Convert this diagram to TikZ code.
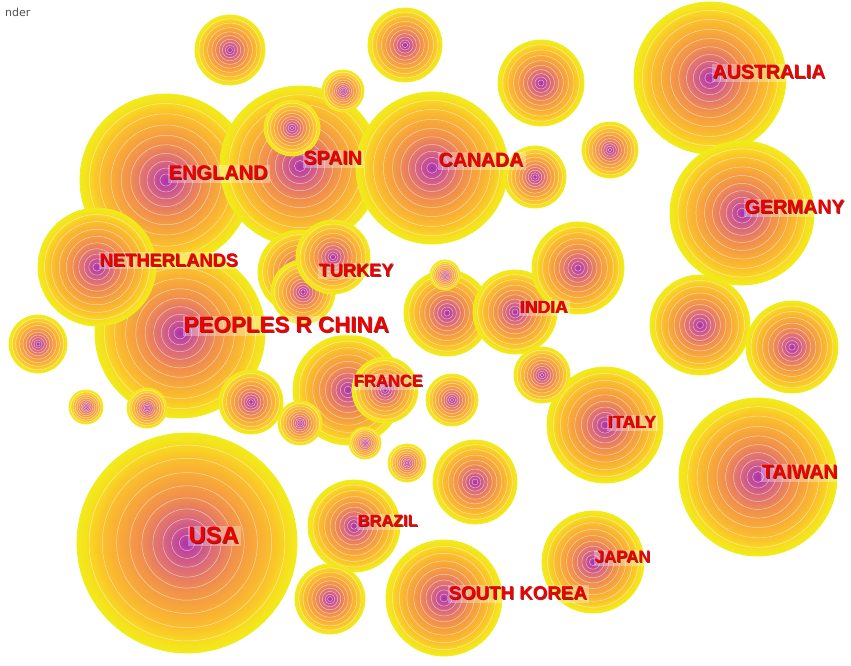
\documentclass[tikz,border=0pt]{standalone}
\usepackage{fontspec}
\newfontfamily\lblfont{Liberation Sans}
\newfontfamily\uifont{DejaVu Sans}
\pgfdeclarelayer{edgelayer}
\pgfsetlayers{edgelayer,main}
\definecolor{cPur}{RGB}{168,50,178}
\definecolor{cPur2}{RGB}{186,66,160}
\definecolor{cPink}{RGB}{218,104,124}
\definecolor{cOrg}{RGB}{240,142,78}
\definecolor{cLOrg}{RGB}{248,170,56}
\definecolor{cYOrg}{RGB}{250,196,42}
\definecolor{cYel}{RGB}{246,224,30}
\definecolor{cRim}{RGB}{240,236,26}
\definecolor{cLbl}{RGB}{240,0,0}
\definecolor{cShadow}{RGB}{110,0,0}
\definecolor{cEdge}{RGB}{238,228,238}
\definecolor{cUi}{RGB}{80,80,80}
\pgfdeclareradialshading{ctryshade}{\pgfpoint{0bp}{0bp}}{color(0bp)=(cPur); color(1.5bp)=(cPur2); color(5.5bp)=(cPink); color(10.5bp)=(cOrg); color(15.5bp)=(cLOrg); color(20bp)=(cYOrg); color(23bp)=(cYel); color(25bp)=(cRim); color(50bp)=(cRim)}
\tikzset{
  ctrynode/.style={circle, inner sep=0pt, shade, shading=ctryshade, draw=cRim, line width=0.8pt},
  ringline/.style={white, line width=0.5pt, opacity=0.55},
  edgeline/.style={draw=cEdge, line width=0.5pt},
  lblband/.style={text=cShadow, fill=white, fill opacity=0.3, text opacity=0.8, inner xsep=1.5pt, inner ysep=2pt, anchor=west},
  lbltext/.style={text=cLbl, inner xsep=1.5pt, inner ysep=2pt, anchor=west},
}
\newcommand\ctry[4]{%
  \node[ctrynode, minimum size=#4*2pt] (#1) at (#2,#3) {};
  \foreach \f in {0.07,0.14,0.22,0.31,0.41,0.52,0.64,0.77,0.89}{\draw[ringline] (#1.center) circle[radius=\f*#4pt];}%
}
\newcommand\lbl[5]{%
  \node[lblband, font=\lblfont\bfseries\fontsize{#4}{#4}\selectfont] at ([shift={(0.9,0.9)}]#2,#3) {#5};
  \node[lbltext, font=\lblfont\bfseries\fontsize{#4}{#4}\selectfont] (#1) at (#2,#3) {#5};
}
\begin{document}
\begin{tikzpicture}[x=1pt,y=-1pt]
\fill[white] (0,0) rectangle (851,666);
\useasboundingbox (0,0) rectangle (851,666);
\node[font=\uifont\fontsize{11}{11}\selectfont, text=cUi, anchor=west, inner sep=0pt] (ui) at (5,12) {nder};
% circles
\ctry{ca}{230}{50}{35}
\ctry{cb}{405}{45}{37}
\ctry{cc}{541}{83}{43}
\ctry{australia}{710}{78}{76}
\ctry{china}{180}{333}{85}
\ctry{england}{166}{180}{86}
\ctry{netherlands}{97}{267}{59}
\ctry{spain}{300}{166}{80}
\ctry{spainb}{292}{128}{28}
\ctry{cd}{343}{91}{21}
\ctry{canada}{432}{168}{76}
\ctry{ce}{535}{177}{31}
\ctry{cf}{610}{150}{28}
\ctry{germany}{742}{213}{72}
\ctry{turkeya}{300}{272}{42}
\ctry{turkeyb}{303}{292}{32}
\ctry{turkey}{333}{257}{37}
\ctry{cg}{447}{313}{43}
\ctry{ch}{445}{275}{15}
\ctry{india}{515}{312}{42}
\ctry{ci}{578}{268}{46}
\ctry{cj}{700}{325}{50}
\ctry{ck}{792}{347}{46}
\ctry{cl}{38}{344}{29}
\ctry{usa}{187}{543}{110}
\ctry{france}{348}{390}{55}
\ctry{franceb}{385}{390}{33}
\ctry{cm}{251}{402}{32}
\ctry{italy}{605}{425}{58}
\ctry{cn}{542}{375}{28}
\ctry{co}{452}{400}{26}
\ctry{cp}{86}{407}{17}
\ctry{cq}{147}{408}{20}
\ctry{cr}{300}{423}{22}
\ctry{cs}{365}{443}{16}
\ctry{ct}{407}{463}{19}
\ctry{taiwan}{758}{477}{79}
\ctry{cu}{475}{482}{42}
\ctry{brazil}{354}{526}{46}
\ctry{cv}{330}{599}{35}
\ctry{japan}{593}{562}{51}
\ctry{skorea}{444}{598}{58}
% faint links
\begin{pgfonlayer}{edgelayer}
\foreach \a/\b in {usa/china, usa/brazil, usa/skorea, usa/italy, china/england, china/canada, china/india, china/taiwan, canada/australia, canada/germany, england/spain, spain/canada, italy/taiwan, japan/skorea, taiwan/japan, india/italy, germany/italy, netherlands/england, france/italy, brazil/japan, australia/germany, ca/england, ca/spain, cb/canada, cc/canada, cj/taiwan, ck/germany, cu/japan, co/italy, cl/china, cp/usa, cq/china, ct/skorea, cn/taiwan, cf/germany, ce/india, ci/germany, cg/france, netherlands/usa, england/usa, spain/france, turkey/india, brazil/italy, skorea/taiwan}
  \draw[edgeline] (\a) -- (\b);
\end{pgfonlayer}
% labels
\lbl{lengland}{167}{173}{20}{ENGLAND}
\lbl{lspain}{302}{158}{19.5}{SPAIN}
\lbl{lcanada}{437}{160}{19.5}{CANADA}
\lbl{laustralia}{711}{72}{19.5}{AUSTRALIA}
\lbl{lgermany}{743}{207}{19.5}{GERMANY}
\lbl{lnetherlands}{98}{260}{18.3}{NETHERLANDS}
\lbl{lchina}{182}{325}{22.4}{PEOPLES R CHINA}
\lbl{lturkey}{317}{270}{18.2}{TURKEY}
\lbl{lindia}{518}{307}{17.6}{INDIA}
\lbl{lfrance}{352}{381}{16.6}{FRANCE}
\lbl{litaly}{606}{422}{17.7}{ITALY}
\lbl{ltaiwan}{760}{472}{19.6}{TAIWAN}
\lbl{lusa}{187}{535}{23.7}{USA}
\lbl{lbrazil}{356}{521}{16.4}{BRAZIL}
\lbl{ljapan}{593}{557}{16.8}{JAPAN}
\lbl{lskorea}{447}{593}{18.7}{SOUTH KOREA}
\end{tikzpicture}
\end{document}
